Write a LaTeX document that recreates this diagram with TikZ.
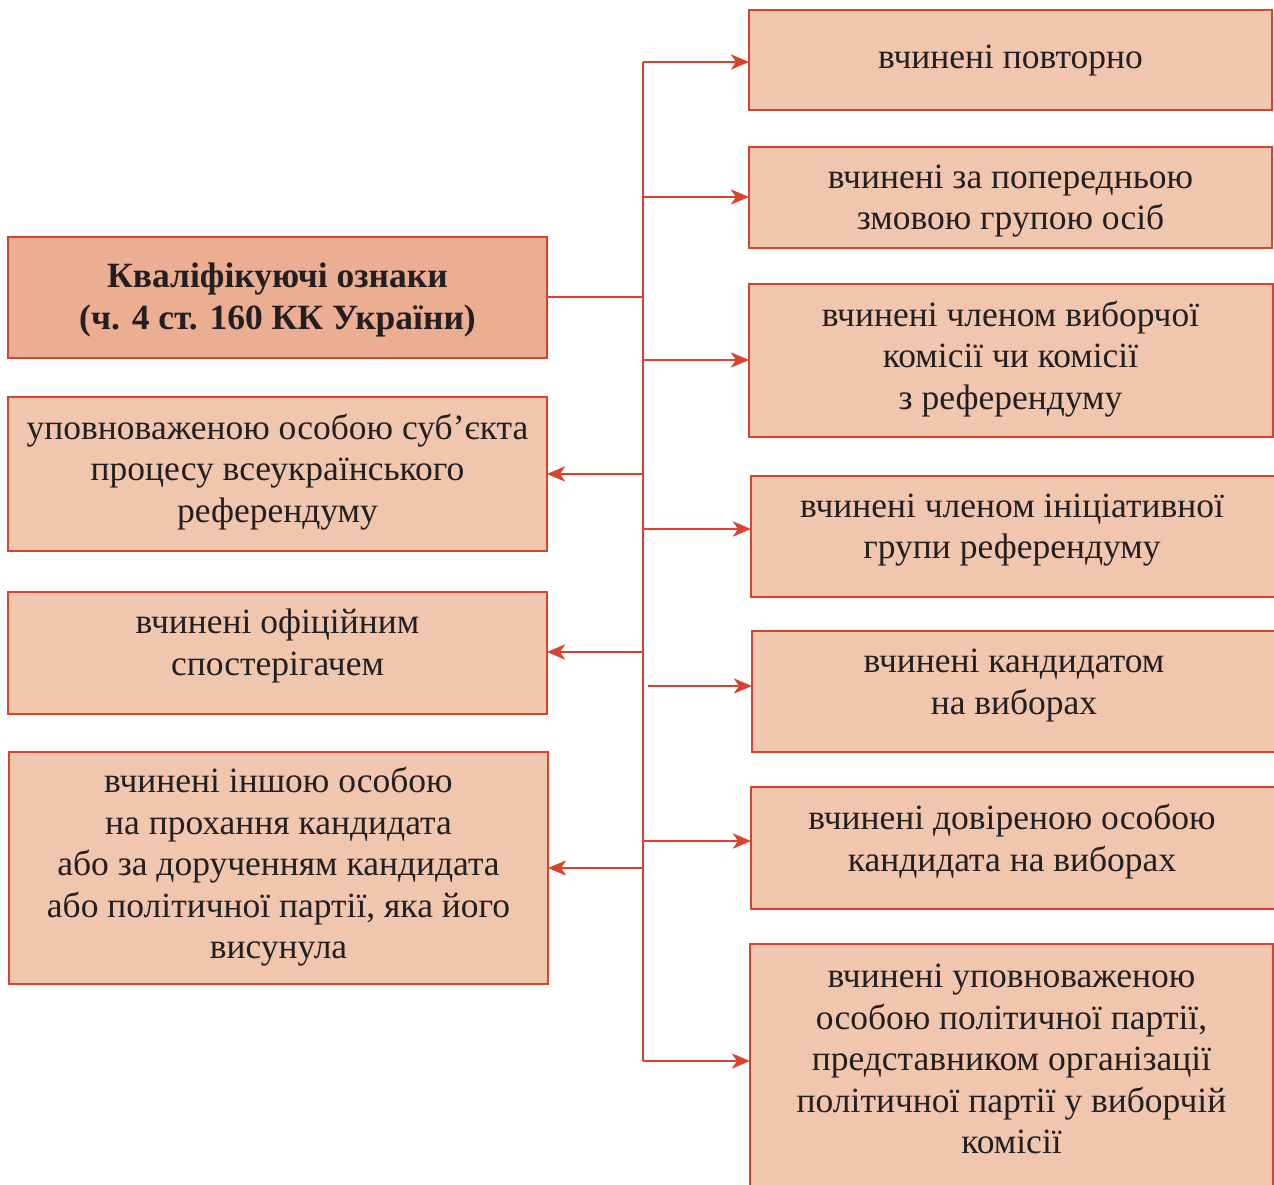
\documentclass[tikz,border=0pt]{standalone}
\usepackage{fontspec}
\setmainfont{Liberation Serif}
\usetikzlibrary{arrows.meta}
\definecolor{edge}{HTML}{D9432D}
\definecolor{boxfill}{HTML}{F1C6AF}
\definecolor{mainfill}{HTML}{EBAE93}
\definecolor{ink}{HTML}{231F20}
\begin{document}
\begin{tikzpicture}[x=1pt,y=-1pt,
  box/.style={draw=edge, line width=2.3pt, fill=boxfill, inner sep=0pt, outer sep=0pt},
  txt/.style={text=ink, align=center, font=\fontsize{35.5}{41.5}\selectfont, inner sep=0pt},
  link/.style={draw=edge, line width=2.9pt},
  arr/.style={link, -{Stealth[length=18pt,width=15pt,inset=5pt]}}]
\useasboundingbox (0,0) rectangle (1274,1185);
\fill[white] (0,0) rectangle (1274,1185);

% left boxes
\node[box, fill=mainfill, minimum width=539pt, minimum height=121pt] (main) at (277.5,297.5) {};
\node[box, minimum width=539pt, minimum height=154pt] (l1) at (277.5,474) {};
\node[box, minimum width=539pt, minimum height=122pt] (l2) at (277.5,653) {};
\node[box, minimum width=539pt, minimum height=232pt] (l3) at (278.5,868) {};
% right boxes
\node[box, minimum width=523pt, minimum height=100pt] (r1) at (1010.5,60) {};
\node[box, minimum width=523pt, minimum height=101pt] (r2) at (1010.5,197.5) {};
\node[box, minimum width=524pt, minimum height=153pt] (r3) at (1011,360.5) {};
\node[box, minimum width=529pt, minimum height=121pt] (r4) at (1015.5,536.5) {};
\node[box, minimum width=528pt, minimum height=121pt] (r5) at (1016,691.5) {};
\node[box, minimum width=529pt, minimum height=122pt] (r6) at (1015.5,848) {};
\node[box, minimum width=523pt, minimum height=250pt] (r7) at (1011.5,1069) {};

% texts
\node[txt, font=\bfseries\fontsize{35.5}{41.5}\selectfont] (maint) at (277.5,300) {Кваліфікуючі ознаки\\(ч. 4 ст. 160 КК України)};
\node[txt] (l1t) at (277.5,472) {уповноваженою особою суб’єкта\\процесу всеукраїнського\\референдуму};
\node[txt] (l2t) at (277.5,646) {вчинені офіційним\\спостерігачем};
\node[txt] (l3t) at (278.5,867) {вчинені іншою особою\\на прохання кандидата\\або за дорученням кандидата\\або політичної партії, яка його\\висунула};
\node[txt] (r1t) at (1010.5,61) {вчинені повторно};
\node[txt] (r2t) at (1010.5,201) {вчинені за попередньою\\змовою групою осіб};
\node[txt] (r3t) at (1010.5,359) {вчинені членом виборчої\\комісії чи комісії\\з референдуму};
\node[txt] (r4t) at (1012,530) {вчинені членом ініціативної\\групи референдуму};
\node[txt] (r5t) at (1014,685.5) {вчинені кандидатом\\на виборах};
\node[txt] (r6t) at (1012,841.5) {вчинені довіреною особою\\кандидата на виборах};
\node[txt] (r7t) at (1011.5,1059) {вчинені уповноваженою\\особою політичної партії,\\представником організації\\політичної партії у виборчій\\комісії};

% trunk
\coordinate (ttop) at (643,62);
\coordinate (tbot) at (643,1061);
\coordinate (tmain) at (643,297);
\draw[link] (ttop) -- (tbot);
\draw[link] (main.east |- tmain) -- (tmain);

\foreach \n/\yy in {r1/62, r2/197, r3/360, r4/529, r6/841, r7/1061}{
  \coordinate (s\n) at (643,\yy);
  \draw[arr] (s\n) -- (\n.west |- s\n);
}
\coordinate (sr5) at (648,686);
\draw[arr] (sr5) -- (r5.west |- sr5);

\foreach \n/\yy in {l1/474, l2/652, l3/868}{
  \coordinate (s\n) at (643,\yy);
  \draw[arr] (s\n) -- (\n.east |- s\n);
}
\end{tikzpicture}
\end{document}
